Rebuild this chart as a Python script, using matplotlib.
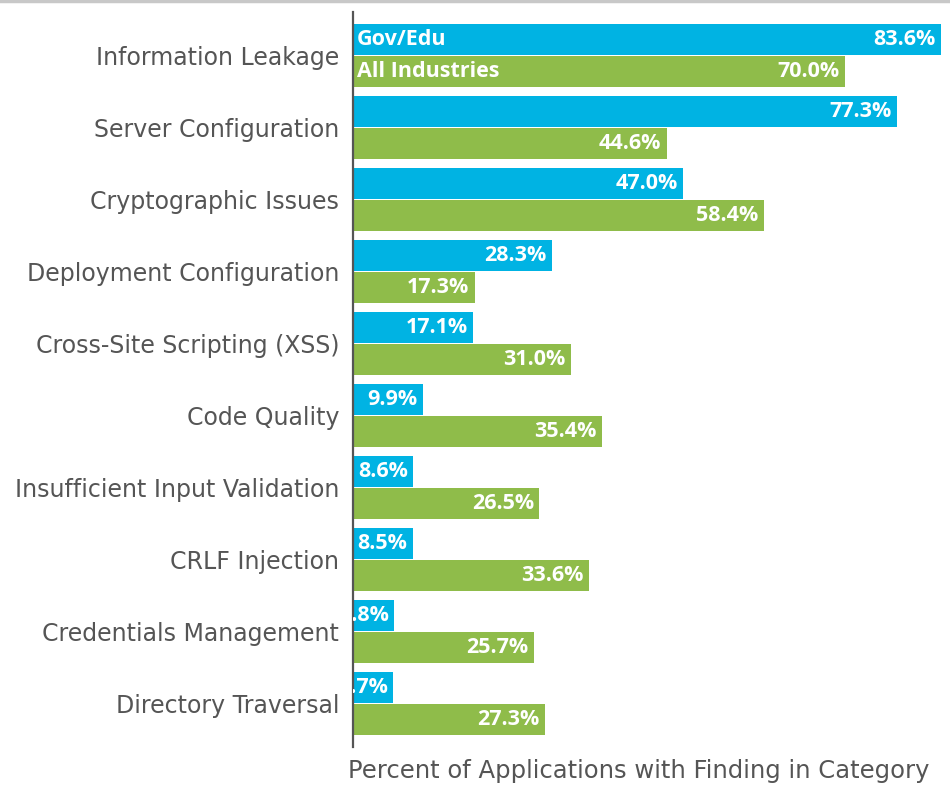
#!/usr/bin/env python3
"""Horizontal grouped bar chart: flaw categories, Gov/Edu vs all industries."""

import matplotlib
matplotlib.use('Agg')
import matplotlib.pyplot as plt
import numpy as np

categories = [
    'Information Leakage',
    'Server Configuration',
    'Cryptographic Issues',
    'Deployment Configuration',
    'Cross-Site Scripting (XSS)',
    'Code Quality',
    'Insufficient Input Validation',
    'CRLF Injection',
    'Credentials Management',
    'Directory Traversal',
]
gov_edu = [83.6, 77.3, 47.0, 28.3, 17.1, 9.9, 8.6, 8.5, 5.8, 5.7]
all_industries = [70.0, 44.6, 58.4, 17.3, 31.0, 35.4, 26.5, 33.6, 25.7, 27.3]
series_names = ['Gov/Edu', 'All Industries']

BLUE = '#00B3E3'
GREEN = '#8FBC4A'
LABEL_GRAY = '#555555'
LABEL_FONT = ['DejaVu Sans']
VALUE_FONT = ['Open Sans', 'DejaVu Sans']

fig = plt.figure(figsize=(9.5, 7.85), dpi=100)
ax = fig.add_axes([353 / 950, 1 - 747 / 785, 1 - 353 / 950, (747 - 12) / 785])

y = np.arange(len(categories))
h = 0.43
off = 0.222

ax.barh(y - off, gov_edu, height=h, color=BLUE, edgecolor='none')
ax.barh(y + off, all_industries, height=h, color=GREEN, edgecolor='none')

ax.set_xlim(0, 84.9)
ax.set_ylim(len(categories) - 0.396, -0.604)

# value labels, right-aligned inside the bar end (clipped at the axis)
pad = 0.75
for yi, gv, av in zip(y, gov_edu, all_industries):
    for val, yy in ((gv, yi - off), (av, yi + off)):
        ax.text(val - pad, yy, f'{val:.1f}%', ha='right', va='center',
                color='white', fontsize=15.5, fontweight='bold',
                family=VALUE_FONT, clip_on=True)

# series names inside the first pair of bars
for name, yy in zip(series_names, (-off, off)):
    ax.text(0.5, yy, name, ha='left', va='center', color='white',
            fontsize=15.5, fontweight='bold', family=VALUE_FONT)

ax.set_yticks(y)
ax.set_yticklabels(categories, fontsize=17, color=LABEL_GRAY, family=LABEL_FONT)
ax.tick_params(axis='y', length=0, pad=10)
ax.set_xticks([])

for side in ('top', 'right', 'bottom'):
    ax.spines[side].set_visible(False)
ax.spines['left'].set_color('#555555')
ax.spines['left'].set_linewidth(1.6)

fig.text(639 / 950, 1 - 771 / 785, 'Percent of Applications with Finding in Category',
         ha='center', va='center', fontsize=17.5, color=LABEL_GRAY, family=LABEL_FONT)

# thin gray rule along the top edge
fig.add_artist(plt.Line2D([0, 1], [0.999, 0.999], transform=fig.transFigure,
                          color='#C8C8C8', linewidth=2.5))

fig.savefig('out.png', dpi=100)
